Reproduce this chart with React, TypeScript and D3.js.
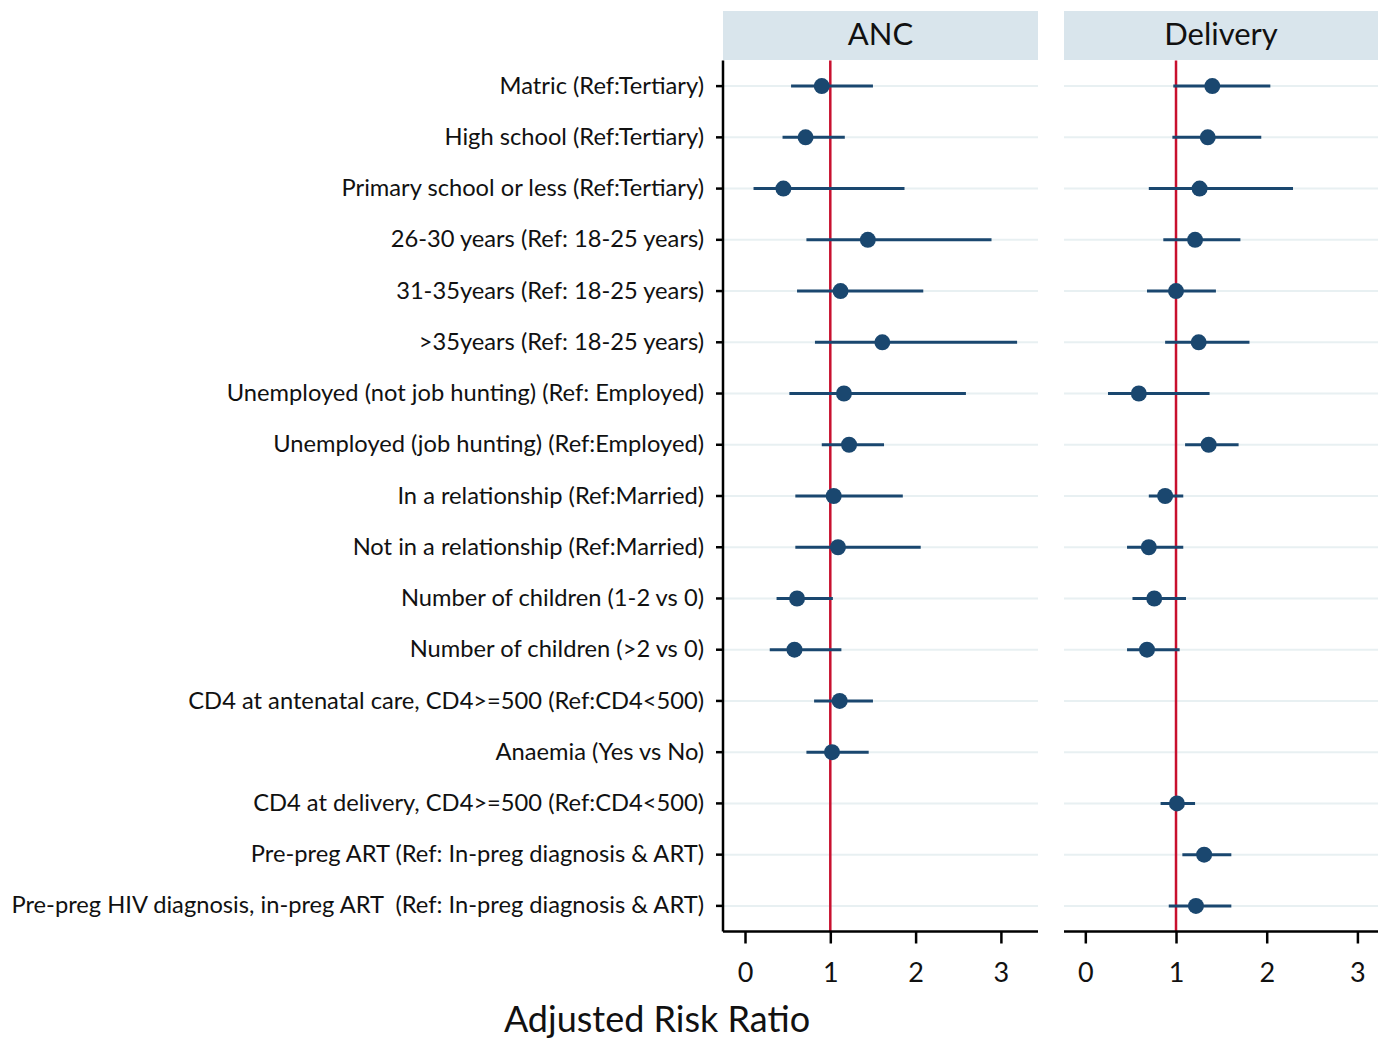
import * as d3 from "d3";
import React, { useEffect, useRef } from "react";

const labels = [
  "Matric (Ref:Tertiary)",
  "High school (Ref:Tertiary)",
  "Primary school or less (Ref:Tertiary)",
  "26-30 years (Ref: 18-25 years)",
  "31-35years (Ref: 18-25 years)",
  ">35years (Ref: 18-25 years)",
  "Unemployed (not job hunting) (Ref: Employed)",
  "Unemployed (job hunting) (Ref:Employed)",
  "In a relationship (Ref:Married)",
  "Not in a relationship (Ref:Married)",
  "Number of children (1-2 vs 0)",
  "Number of children (>2 vs 0)",
  "CD4 at antenatal care, CD4>=500 (Ref:CD4<500)",
  "Anaemia (Yes vs No)",
  "CD4 at delivery, CD4>=500 (Ref:CD4<500)",
  "Pre-preg ART (Ref: In-preg diagnosis & ART)",
  "Pre-preg HIV diagnosis, in-preg ART  (Ref: In-preg diagnosis & ART)",
];

// ANC: estimate, lower, upper (null = not in model)
const ancRR = [0.9, 0.71, 0.45, 1.44, 1.12, 1.61, 1.16, 1.22, 1.04, 1.09, 0.61, 0.58, 1.11, 1.02, null, null, null];
const ancLo = [0.54, 0.44, 0.1, 0.72, 0.61, 0.82, 0.52, 0.9, 0.59, 0.59, 0.37, 0.29, 0.81, 0.72, null, null, null];
const ancHi = [1.5, 1.17, 1.87, 2.89, 2.09, 3.19, 2.59, 1.63, 1.85, 2.06, 1.03, 1.13, 1.5, 1.45, null, null, null];

const delRR = [1.4, 1.35, 1.26, 1.21, 1.0, 1.25, 0.59, 1.36, 0.88, 0.7, 0.76, 0.68, null, null, 1.01, 1.31, 1.22];
const delLo = [0.97, 0.96, 0.7, 0.86, 0.68, 0.88, 0.25, 1.1, 0.7, 0.46, 0.52, 0.46, null, null, 0.83, 1.07, 0.92];
const delHi = [2.04, 1.94, 2.29, 1.71, 1.44, 1.81, 1.37, 1.69, 1.08, 1.08, 1.11, 1.04, null, null, 1.21, 1.61, 1.61];

const xTicks = [0, 1, 2, 3];

const FONT = "Lato, 'Open Sans', sans-serif";

const App = () => {
  const svgRef = useRef<SVGSVGElement>(null);

  useEffect(() => {
    const svg = d3.select(svgRef.current);
    svg.selectAll("*").remove();

    const top = 60.5;
    const bottom = 931.5;

    const y = d3.scaleBand().domain(labels).range([top, bottom]).padding(0);

    const panels = [
      { title: "ANC", left: 723, right: 1038, domain: [-0.258, 3.435], rr: ancRR, lo: ancLo, hi: ancHi },
      { title: "Delivery", left: 1064, right: 1378, domain: [-0.235, 3.227], rr: delRR, lo: delLo, hi: delHi },
    ];

    panels.forEach((p, pi) => {
      const x = d3.scaleLinear().domain(p.domain).range([p.left, p.right]);
      const g = svg.append("g");

      // header strip
      g.append("rect")
        .attr("x", p.left)
        .attr("y", 11)
        .attr("width", p.right - p.left)
        .attr("height", 49)
        .attr("fill", "#d9e5ec");
      g.append("text")
        .attr("x", (p.left + p.right) / 2)
        .attr("y", 33)
        .attr("text-anchor", "middle")
        .attr("dominant-baseline", "central")
        .attr("font-family", FONT)
        .attr("font-size", 31)
        .attr("fill", "#111")
        .text(p.title);

      // grid lines
      g.selectAll(".grid")
        .data(labels)
        .enter()
        .append("line")
        .attr("x1", p.left)
        .attr("x2", p.right)
        .attr("y1", (d) => y(d)! + y.bandwidth() / 2)
        .attr("y2", (d) => y(d)! + y.bandwidth() / 2)
        .attr("stroke", "#e8f0f2")
        .attr("stroke-width", 2);

      // reference line at 1
      g.append("line")
        .attr("x1", x(1))
        .attr("x2", x(1))
        .attr("y1", top)
        .attr("y2", bottom)
        .attr("stroke", "#c8102e")
        .attr("stroke-width", 2.5);

      const rows = labels
        .map((l, i) => ({ l, rr: p.rr[i], lo: p.lo[i], hi: p.hi[i] }))
        .filter((d) => d.rr != null);

      // CI lines
      g.selectAll(".ci")
        .data(rows)
        .enter()
        .append("line")
        .attr("x1", (d) => x(d.lo as number))
        .attr("x2", (d) => x(d.hi as number))
        .attr("y1", (d) => y(d.l)! + y.bandwidth() / 2)
        .attr("y2", (d) => y(d.l)! + y.bandwidth() / 2)
        .attr("stroke", "#1a476f")
        .attr("stroke-width", 3);

      // points
      g.selectAll(".pt")
        .data(rows)
        .enter()
        .append("circle")
        .attr("cx", (d) => x(d.rr as number))
        .attr("cy", (d) => y(d.l)! + y.bandwidth() / 2)
        .attr("r", 8)
        .attr("fill", "#1a476f");

      // x axis
      const xAxis = g
        .append("g")
        .attr("transform", `translate(0,${bottom})`)
        .call(d3.axisBottom(x).tickValues(xTicks).tickSize(12).tickPadding(19).tickFormat(d3.format("d")));
      xAxis.select(".domain").attr("d", `M${p.left},0H${p.right}`).attr("stroke", "#000").attr("stroke-width", 2.5);
      xAxis.selectAll(".tick line").attr("stroke", "#000").attr("stroke-width", 2.5);
      xAxis
        .selectAll(".tick text")
        .attr("font-family", FONT)
        .attr("font-size", 27)
        .attr("fill", "#111");

      // y axis only on first panel
      if (pi === 0) {
        const yAxis = g
          .append("g")
          .attr("transform", `translate(${p.left},0)`)
          .call(d3.axisLeft(y).tickSize(7).tickPadding(12));
        yAxis.select(".domain").attr("d", `M0,${top}V${bottom}`).attr("stroke", "#000").attr("stroke-width", 2.5);
        yAxis.selectAll(".tick line").attr("stroke", "#000").attr("stroke-width", 2.5);
        yAxis
          .selectAll(".tick text")
          .attr("font-family", FONT)
          .attr("font-size", 23.7)
          .attr("fill", "#111")
          .style("white-space", "pre");
      }
    });

    svg
      .append("text")
      .attr("x", 657)
      .attr("y", 1032)
      .attr("text-anchor", "middle")
      .attr("font-family", FONT)
      .attr("font-size", 36)
      .attr("fill", "#111")
      .text("Adjusted Risk Ratio");
  }, []);

  return (
    <svg
      ref={svgRef}
      width={1384}
      height={1039}
      viewBox="0 0 1384 1039"
      style={{ position: "absolute", left: 0, top: 0, background: "#fff" }}
    />
  );
};

export default App;
